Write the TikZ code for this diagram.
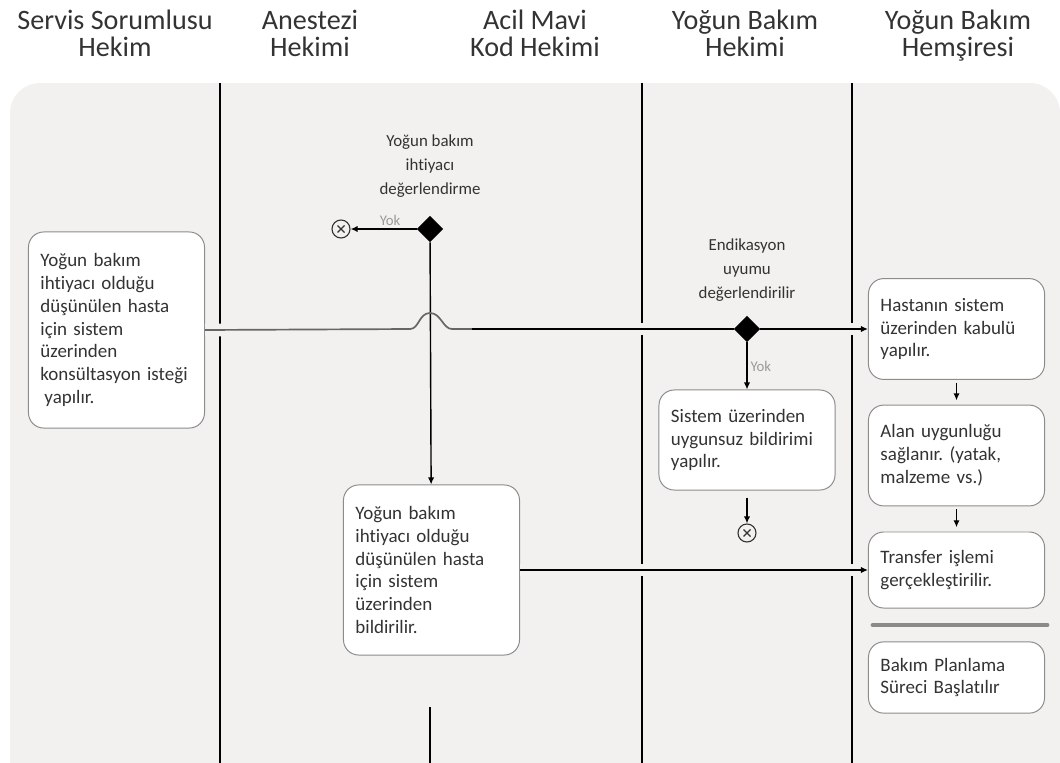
\documentclass[tikz,border=0pt]{standalone}
\usepackage{fontspec}
\setmainfont{Carlito}[Ligatures=NoCommon]
\usetikzlibrary{shapes.geometric, arrows.meta, positioning}
\definecolor{lanegray}{HTML}{F2F1F0}
\definecolor{boxline}{HTML}{8C8C8C}
\definecolor{textgray}{HTML}{333333}
\definecolor{yokgray}{HTML}{9A9A9A}
\definecolor{hopgray}{HTML}{666666}
\definecolor{bargray}{HTML}{8A8A8A}
\frenchspacing
\newcommand{\fixedlines}{\lineskiplimit=-20pt\relax}

\begin{document}
\begin{tikzpicture}[x=0.025cm, y=-0.025cm]
	\tikzstyle{lanehead} = [align=center, anchor=north, font=\fontsize{20}{19.5}\selectfont\fixedlines, text=textgray]
	\tikzstyle{task} = [draw=boxline, fill=white, rounded corners=0.38cm, line width=0.7pt, align=left, text width=3.8cm, inner xsep=0.3cm, font=\fontsize{13.5}{16.3}\selectfont\fixedlines, text=textgray]
	\tikzstyle{decision} = [diamond, fill=black, inner sep=0pt, minimum size=0.66cm]
	\tikzstyle{question} = [align=center, inner sep=0pt, font=\fontsize{12}{17}\selectfont, text=textgray]
	\tikzstyle{yok} = [font=\fontsize{10.5}{12}\selectfont, text=yokgray, inner sep=2pt]
	\tikzstyle{stopnode} = [circle, draw=textgray, line width=0.8pt, minimum size=0.45cm, inner sep=0pt,
		path picture={\draw[textgray, line width=0.8pt] (path picture bounding box.center) ++(-3.5,-3.5) -- ++(7,7)
			(path picture bounding box.center) ++(-3.5,3.5) -- ++(7,-7);}]
	\tikzstyle{flow} = [-{Latex[length=5pt,width=4.5pt]}, line width=1pt]
	\tikzstyle{halo} = [preaction={draw=lanegray, line width=9pt}]
	\tikzstyle{lane} = [line width=1pt]

	\useasboundingbox (0,0) rectangle (1060,763);
	\clip (0,0) rectangle (1060,763);
	\fill[lanegray, rounded corners=0.75cm] (10,83) rectangle (1060,820);

	% lanes
	\node[lanehead] (h1) at (115,5) {Servis Sorumlusu\\Hekim};
	\node[lanehead] (h2) at (310,5) {Anestezi\\Hekimi};
	\node[lanehead] (h3) at (535,5) {Acil Mavi\\Kod Hekimi};
	\node[lanehead] (h4) at (745,5) {Yoğun Bakım\\Hekimi};
	\node[lanehead] (h5) at (958,5) {Yoğun Bakım\\Hemşiresi};
	\draw[lane] (220,83) -- (220,763);
	\draw[lane] (642,83) -- (642,763);
	\draw[lane] (852,83) -- (852,763);
	\draw[lane] (430,707) -- (430,763);

	% servis
	\node[task, minimum height=4.9cm] (consult) at (116.5,330) {Yoğun bakım\\ihtiyacı olduğu\\düşünülen hasta\\için sistem\\üzerinden\\konsültasyon isteği\\\hspace*{0.1cm}yapılır.};

	% anestezi / acil
	\node[decision] (need) at (430,229) {};
	\node[question, above=0.45cm of need] (needq) {Yoğun bakım\\ihtiyacı\\değerlendirme};
	\node[stopnode] (stopa) at (341,229) {};
	\node[task, minimum height=4.25cm] (notify) at (431.5,570) {Yoğun bakım\\ihtiyacı olduğu\\düşünülen hasta\\için sistem\\üzerinden\\bildirilir.};
	\draw[flow] (need) -- (stopa) node[pos=0.4, above, yok] {Yok};
	\draw[flow] (need) -- (notify);

	% yogun bakim hekimi
	\node[decision] (fit) at (747,329) {};
	\node[question, above=0.35cm of fit] (fitq) {Endikasyon\\uyumu\\değerlendirilir};
	\node[task, minimum height=2.5cm] (unfit) at (747,440) {Sistem üzerinden\\uygunsuz bildirimi\\yapılır.};
	\node[stopnode] (stopb) at (747,533) {};
	\draw[flow] (fit) -- (unfit) node[midway, right, yok] {Yok};
	\draw[flow, shorten <=5pt] (unfit) -- (stopb);

	% hemsire
	\node[task, minimum height=2.52cm] (accept) at (956.5,329) {Hastanın sistem\\üzerinden kabulü\\yapılır.};
	\node[task, minimum height=2.52cm] (area) at (956.5,455.5) {Alan uygunluğu\\sağlanır. (yatak,\\malzeme vs.)};
	\node[task, minimum height=1.9cm] (transfer) at (956.5,570) {Transfer işlemi\\gerçekleştirilir.};
	\draw[bargray, line width=3.5pt, line cap=round] (873,625) -- (1047,625);
	\node[task, minimum height=1.78cm] (plan) at (956.5,677.5) {Bakım Planlama\\Süreci Başlatılır};
	\draw[flow, shorten <=2pt, shorten >=3pt] (accept) -- (area);
	\draw[flow, shorten <=2pt, shorten >=3pt] (area) -- (transfer);

	% crossing flows
	\coordinate (hopin) at (410,329);
	\coordinate (hoptop) at (430,313);
	\coordinate (hopout) at (452,329);
	\coordinate (shade) at (472,329);
	\draw[hopgray, line width=1.2pt, halo] (consult.east) -- (hopin);
	\draw[hopgray, line width=1.2pt] (hopin) .. controls +(9,0) and +(-11,0) .. (hoptop) .. controls +(11,0) and +(-9,0) .. (hopout) -- (shade);
	\draw[line width=1pt, halo] (shade) -- (fit.west);
	\draw[flow, halo] (fit) -- (accept);
	\draw[flow, halo] (notify) -- (transfer);
\end{tikzpicture}
\end{document}
